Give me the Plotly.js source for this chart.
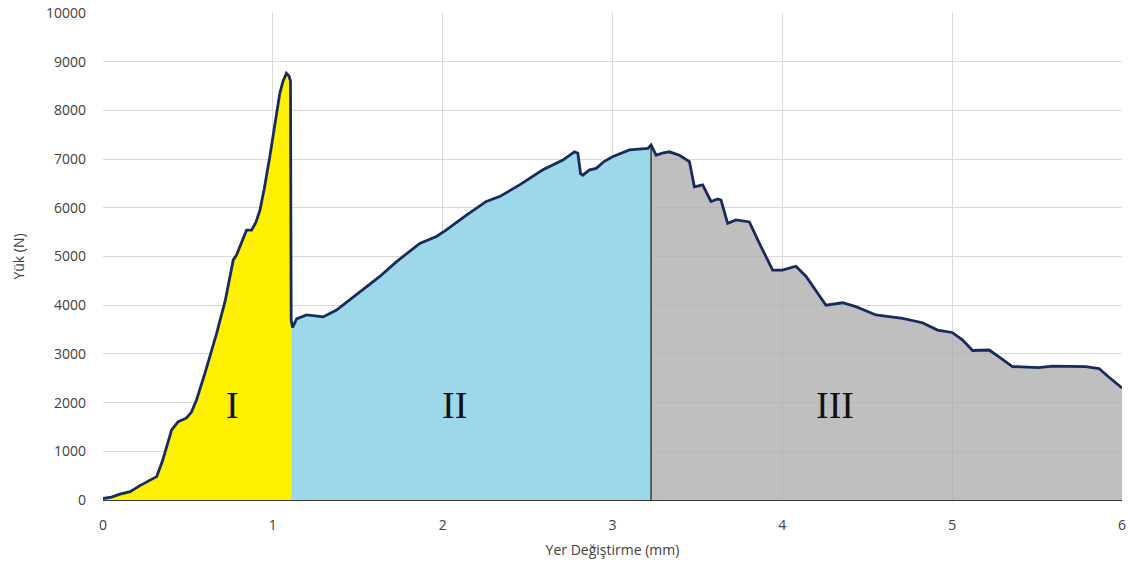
<!DOCTYPE html>
<html>
<head>
<meta charset="utf-8">
<script src="https://cdn.plot.ly/plotly-3.0.1.min.js"></script>
<style>html,body{margin:0;padding:0;background:#fff;}#chart{width:1132px;height:574px;}</style>
</head>
<body>
<div id="chart"></div>
<script>
// Region I (elastic) displacement (mm) and load (N)
const dispI = [0, 0.05, 0.10, 0.16, 0.22, 0.27, 0.316, 0.35, 0.38, 0.404, 0.443, 0.49, 0.52, 0.55, 0.60, 0.669, 0.72, 0.767, 0.786, 0.81, 0.845, 0.875, 0.90, 0.924, 0.95, 0.982, 1.01, 1.041, 1.06, 1.08, 1.096, 1.104, 1.108];
const loadI = [30, 60, 120, 170, 300, 400, 480, 800, 1150, 1440, 1610, 1680, 1800, 2050, 2600, 3420, 4100, 4930, 5030, 5250, 5540, 5540, 5700, 5950, 6400, 7050, 7700, 8350, 8600, 8760, 8700, 8600, 3700];
// Region II
const dispII = [1.108, 1.116, 1.14, 1.198, 1.25, 1.296, 1.375, 1.43, 1.49, 1.56, 1.63, 1.727, 1.80, 1.865, 1.963, 2.02, 2.14, 2.257, 2.335, 2.453, 2.59, 2.708, 2.776, 2.796, 2.812, 2.825, 2.865, 2.904, 2.95, 3.0, 3.1, 3.178, 3.208, 3.227];
const loadII = [3700, 3540, 3720, 3800, 3780, 3760, 3900, 4050, 4210, 4400, 4590, 4890, 5100, 5270, 5410, 5540, 5850, 6130, 6230, 6470, 6780, 6980, 7150, 7120, 6700, 6670, 6780, 6810, 6950, 7050, 7190, 7220, 7220, 7290];
// Region III
const dispIII = [3.227, 3.257, 3.30, 3.335, 3.394, 3.453, 3.482, 3.531, 3.58, 3.62, 3.639, 3.678, 3.727, 3.806, 3.865, 3.943, 4.0, 4.08, 4.14, 4.257, 4.355, 4.433, 4.551, 4.708, 4.825, 4.914, 5.0, 5.06, 5.12, 5.218, 5.276, 5.355, 5.51, 5.59, 5.786, 5.865, 5.92, 6.0];
const loadIII = [7290, 7080, 7130, 7150, 7080, 6950, 6430, 6470, 6130, 6180, 6160, 5680, 5750, 5710, 5270, 4720, 4720, 4800, 4590, 4000, 4050, 3970, 3800, 3730, 3640, 3490, 3440, 3290, 3070, 3080, 2940, 2740, 2720, 2750, 2740, 2700, 2530, 2300];

const regionLabels = ["I", "II", "III"];
const labelX = [0.765, 2.07, 4.31];
const labelY = [1950, 1950, 1950];

const xTicks = [0, 1, 2, 3, 4, 5, 6];
const yTicks = [0, 1000, 2000, 3000, 4000, 5000, 6000, 7000, 8000, 9000, 10000];

const traces = [
  {x: dispI, y: loadI, type: 'scatter', mode: 'lines', fill: 'tozeroy', fillcolor: '#FFF000', line: {width: 0, color: '#FFF000'}, hoverinfo: 'skip'},
  {x: dispII, y: loadII, type: 'scatter', mode: 'lines', fill: 'tozeroy', fillcolor: '#9DD7EA', line: {width: 0, color: '#9DD7EA'}, hoverinfo: 'skip'},
  {x: dispIII, y: loadIII, type: 'scatter', mode: 'lines', fill: 'tozeroy', fillcolor: 'rgba(171,171,171,0.76)', line: {width: 0, color: '#BFBFBF'}, hoverinfo: 'skip'},
  {x: [dispIII[0], dispIII[0]], y: [0, loadIII[0]], type: 'scatter', mode: 'lines', line: {width: 1.2, color: '#1a1a1a'}, hoverinfo: 'skip'},
  {x: dispI.concat(dispII.slice(1), dispIII.slice(1)), y: loadI.concat(loadII.slice(1), loadIII.slice(1)), type: 'scatter', mode: 'lines', line: {width: 2.8, color: '#172C5C'}}
];

const font = "Open Sans, Noto Sans, sans-serif";
const layout = {
  width: 1132, height: 574,
  margin: {l: 103, r: 10, t: 13, b: 74},
  paper_bgcolor: '#fff', plot_bgcolor: '#fff',
  showlegend: false,
  font: {family: font, size: 14, color: '#404040'},
  xaxis: {
    range: [0, 6], tickvals: xTicks, ticktext: xTicks.map(String),
    showgrid: true, gridcolor: '#D9D9D9', gridwidth: 1,
    zeroline: false, showline: true, linecolor: '#3a3a3a', linewidth: 1,
    ticks: '', ticklabelstandoff: 12, tickfont: {size: 14, color: '#404040'},
    title: {text: 'Yer Değiştirme (mm)', font: {size: 14, color: '#404040'}, standoff: 12}
  },
  yaxis: {
    range: [0, 10000], tickvals: yTicks, ticktext: yTicks.map(String),
    showgrid: true, gridcolor: '#D9D9D9', gridwidth: 1,
    zeroline: false, showline: false,
    ticks: '', ticklabelstandoff: 16, tickfont: {size: 14, color: '#404040'},
    title: {text: 'Yük (N)', font: {size: 14, color: '#404040'}, standoff: 18}
  },
  annotations: regionLabels.map((t, i) => ({
    x: labelX[i], y: labelY[i], xref: 'x', yref: 'y', text: t, showarrow: false,
    font: {family: 'Liberation Serif, DejaVu Serif, serif', size: 38, color: '#111'}
  }))
};

Plotly.newPlot('chart', traces, layout, {displayModeBar: false, staticPlot: true});
</script>
</body>
</html>
